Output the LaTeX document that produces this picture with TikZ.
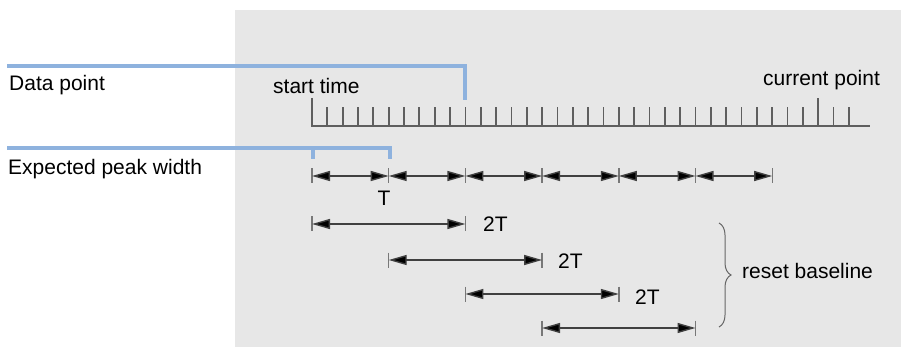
\documentclass[tikz,border=0pt]{standalone}
\usepackage{fontspec}
\setmainfont{Liberation Sans}
\usetikzlibrary{arrows.meta,decorations.pathreplacing}
\definecolor{bggray}{RGB}{231,231,231}
\definecolor{blueln}{RGB}{142,178,222}
\definecolor{tickgray}{RGB}{95,95,95}
\definecolor{bargray}{RGB}{120,120,120}
\begin{document}
\begin{tikzpicture}[x=1pt,y=-1pt,
  lbl/.style={inner sep=0pt,font=\fontsize{21}{24}\selectfont,text=black},
  blueline/.style={draw=blueln,line width=3.4pt},
  tickln/.style={draw=tickgray,line width=1.8pt},
  barln/.style={draw=bargray,line width=1.4pt},
  dimln/.style={draw=black!75,line width=1.4pt,
    {Triangle[length=18pt,width=10pt,fill=black]}-{Triangle[length=18pt,width=10pt,fill=black]}},
  bracestyle/.style={draw=black!60,line width=1pt,decorate,decoration={brace,amplitude=12pt}}]
\useasboundingbox (0,0) rectangle (901,347);
\fill[bggray] (235,10) rectangle (901,347);
% axis
\coordinate (axL) at (312,126);
\coordinate (axR) at (870,126);
\draw[tickln] (312,98) -- (axL) -- (axR);
\foreach \k in {1,...,35}{
  \pgfmathsetmacro{\xx}{312+15.34*\k}
  \ifnum\k=33
    \draw[tickln] (\xx,126) -- (\xx,98);
  \else
    \draw[tickln] (\xx,126) -- (\xx,107);
  \fi
}
% blue leader lines
\coordinate (b1s) at (7,66);
\coordinate (b1c) at (465,66);
\coordinate (b1e) at (465,100);
\draw[blueline] (b1s) -- (b1c) -- (b1e);
\coordinate (b2s) at (7,148);
\coordinate (b2c) at (390,148);
\coordinate (b2e) at (390,159);
\coordinate (b2m) at (313,148);
\coordinate (b2n) at (313,159);
\draw[blueline] (b2s) -- (b2c) -- (b2e);
\draw[blueline] (b2m) -- (b2n);
% labels
\node[lbl,anchor=base west] (dp) at (9,91) {Data point};
\node[lbl,anchor=base west] (epw) at (8,175) {Expected peak width};
\node[lbl,anchor=base west] (st) at (273,94) {start time};
\node[lbl,anchor=base west] (cp) at (763,86) {current point};
% T row
\foreach \j in {0,...,6}{
  \pgfmathsetmacro{\xx}{312+76.7*\j}
  \coordinate (p\j) at (\xx,176);
  \draw[barln] (\xx,168.5) -- (\xx,183.5);
}
\foreach \j [evaluate=\j as \n using int(\j+1)] in {0,...,5}{
  \draw[dimln] (p\j) -- (p\n);
}
\node[lbl,anchor=base] (tl) at (384,206) {T};
% 2T rows
\foreach \r/\y in {0/224,1/260,2/294,3/328}{
  \pgfmathsetmacro{\xa}{312+76.7*\r}
  \pgfmathsetmacro{\xb}{312+76.7*(\r+2)}
  \coordinate (q\r a) at (\xa,\y);
  \coordinate (q\r b) at (\xb,\y);
  \draw[barln] (\xa,\y-7.5) -- (\xa,\y+7.5);
  \draw[barln] (\xb,\y-7.5) -- (\xb,\y+7.5);
  \draw[dimln] (q\r a) -- (q\r b);
}
\node[lbl,anchor=base west] (t2a) at (483,232) {2T};
\node[lbl,anchor=base west] (t2b) at (558,268) {2T};
\node[lbl,anchor=base west] (t2c) at (635,304) {2T};
% brace
\coordinate (brT) at (719,223);
\coordinate (brB) at (719,327);
\draw[bracestyle] (brT) -- (brB);
\node[lbl,anchor=base west] (rb) at (742,278) {reset baseline};
\end{tikzpicture}
\end{document}
